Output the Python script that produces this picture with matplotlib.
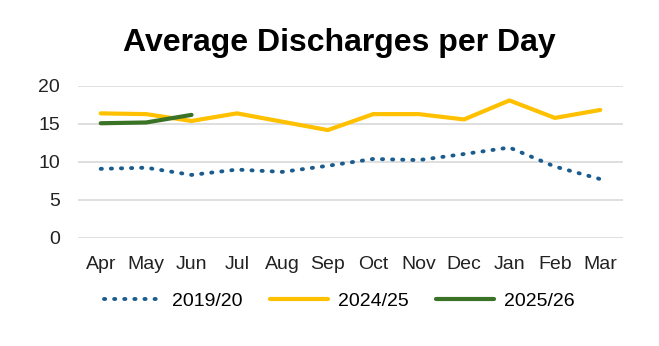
import matplotlib
matplotlib.use("Agg")
import matplotlib.pyplot as plt

months = ["Apr", "May", "Jun", "Jul", "Aug", "Sep", "Oct", "Nov", "Dec", "Jan", "Feb", "Mar"]
s2019 = [9.1, 9.25, 8.3, 9.0, 8.7, 9.5, 10.4, 10.25, 11.05, 11.9, 9.4, 7.75]
s2024 = [16.4, 16.3, 15.4, 16.4, 15.3, 14.2, 16.3, 16.3, 15.6, 18.1, 15.8, 16.85]
s2025 = [15.1, 15.2, 16.2]
yticks = [0, 5, 10, 15, 20]

plt.rcParams['font.family'] = ['Liberation Sans', 'DejaVu Sans']

fig = plt.figure(figsize=(6.59, 3.46), dpi=100)
ax = fig.add_axes([78/659, 1-238/346, (623-78)/659, (238-86)/346])

x = list(range(len(months)))
ax.plot(x, s2019, color="#1B5C8E", lw=2.8, linestyle=(0, (0.3, 2.3)), dash_capstyle="round", label="2019/20")
ax.plot(x, s2024, color="#FFC000", lw=3, solid_capstyle="round", label="2024/25")
ax.plot(x[:len(s2025)], s2025, color="#3A7226", lw=3, solid_capstyle="round", label="2025/26")

ax.set_xlim(-0.5, len(months) - 0.5)
ax.set_ylim(0, 20)
ax.set_yticks(yticks)
ax.set_xticks(x)
ax.set_xticklabels(months)
ax.tick_params(axis="both", length=0, labelsize=14, colors="#222222")
ax.tick_params(axis="x", pad=13)
ax.tick_params(axis="y", pad=13)
for s in ax.spines.values():
    s.set_visible(False)
ax.grid(axis="y", color="#D9D9D9", lw=1.2)
ax.set_axisbelow(True)

fig.text(0.5 + 9.5/659, 1-43/346, "Average Discharges per Day", ha="center", va="center",
         fontsize=23, fontweight="bold", color="#000000")

fig.legend(loc="center", bbox_to_anchor=(0.5 + 9.5/659, 1-301/346), ncol=3, frameon=False,
           fontsize=14, handlelength=3.0, columnspacing=1.4, handletextpad=0.5)

fig.savefig("out.png", dpi=100)
